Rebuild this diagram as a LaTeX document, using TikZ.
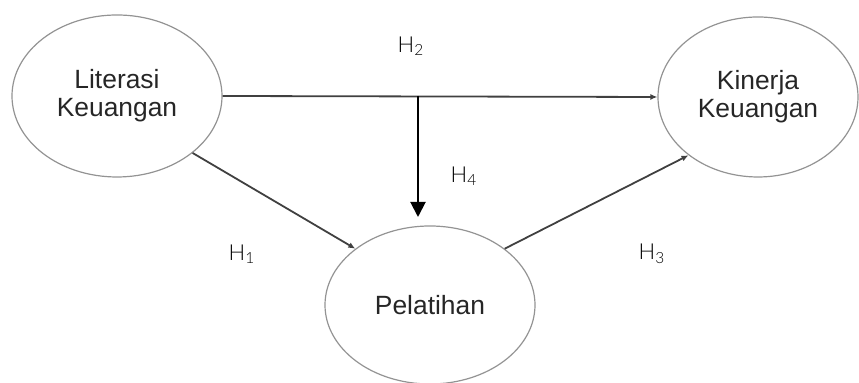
\documentclass[tikz,border=0pt]{standalone}
\usepackage{fontspec}
\setmainfont{Liberation Sans}
\newfontfamily\hfont{Lato Light}
\usepackage{xcolor}
\usetikzlibrary{arrows.meta,shapes.geometric}

\begin{document}
\begin{tikzpicture}[x=0.5pt,y=-0.5pt,
  var/.style={ellipse,draw=gray!85,line width=0.6pt,inner sep=0pt,
    align=center,text=black!85,font=\fontsize{13.2}{14}\selectfont},
  path/.style={draw=black!75,line width=0.9pt,-{Latex[length=3.5pt,width=3pt]}},
  hyp/.style={font=\hfont\fontsize{11}{13}\selectfont}]
\useasboundingbox (0,0) rectangle (859,383);

\node (lit) at (117,96) [var,minimum width=105pt,minimum height=81pt] {Literasi\\Keuangan};
\node (kin) at (758,97) [var,minimum width=100pt,minimum height=80pt] {Kinerja\\Keuangan};
\node (pel) at (430,305) [var,minimum width=105pt,minimum height=79pt] {Pelatihan};

\draw [path] (lit.east) -- (kin.west);
\draw [path] (lit.-37) -- (pel.143);
\draw [path] (pel.37) -- (kin.220);

\coordinate (mod) at (418,96);
\coordinate (tip) at (418,217);
\draw [black,line width=1pt,-{Triangle[length=7.5pt,width=7.5pt]}] (mod) -- (tip);

\node (h2) at (411,46) [hyp] {H\textsubscript{2}};
\node (h4) at (464,176) [hyp] {H\textsubscript{4}};
\node (h1) at (242,254) [hyp] {H\textsubscript{1}};
\node (h3) at (652,254) [hyp] {H\textsubscript{3}};
\end{tikzpicture}
\end{document}
